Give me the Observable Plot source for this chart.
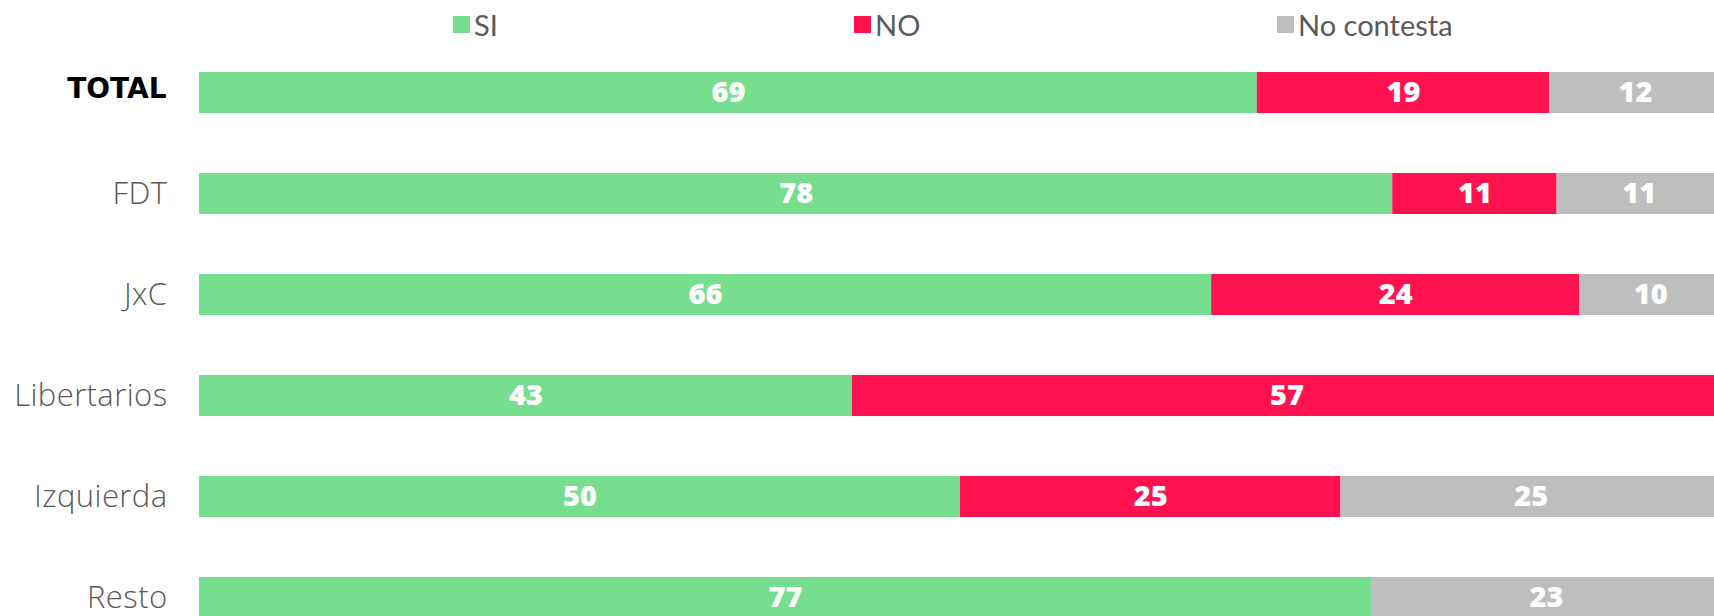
<!DOCTYPE html>
<html>
<head>
<meta charset="utf-8">
<script src="https://cdn.jsdelivr.net/npm/d3@7"></script>
<script src="https://cdn.jsdelivr.net/npm/@observablehq/plot@0.6"></script>
<style>
  html, body { margin: 0; padding: 0; background: #fff; overflow: hidden; }
  #legend { position: relative; height: 50px; width: 1714px; font-family: Lato, "Open Sans", sans-serif; font-size: 29px; color: #5a5a5a; }
  #legend .item { position: absolute; top: 6px; display: flex; align-items: center; height: 36px; }
  #legend .sw { width: 17px; height: 17px; margin-right: 4px; }
  #chart svg { display: block; }
  #chart .ylab text { letter-spacing: 0.4px; }
</style>
</head>
<body>
<div id="legend"></div>
<div id="chart"></div>
<script>
// Categories (rows, top to bottom)
const groups = ["TOTAL", "FDT", "JxC", "Libertarios", "Izquierda", "Resto"];
// Series
const series = ["SI", "NO", "No contesta"];
const seriesColors = ["#78de8f", "#ff124f", "#bebebe"];
// Bar lengths (percent)
const valuesSI = [69.5, 78.4, 66.5, 42.9, 50, 77];
const valuesNO = [19.2, 10.8, 24.2, 57.1, 25, 0];
const valuesNC = [11.3, 10.8, 9.3, 0, 25, 23];
// Printed labels
const labelsSI = ["69", "78", "66", "43", "50", "77"];
const labelsNO = ["19", "11", "24", "57", "25", ""];
const labelsNC = ["12", "11", "10", "", "25", "23"];

const seriesValues = [valuesSI, valuesNO, valuesNC];
const seriesLabels = [labelsSI, labelsNO, labelsNC];
const data = [];
series.forEach((s, si) => {
  groups.forEach((g, gi) => {
    data.push({group: g, series: s, value: seriesValues[si][gi], label: seriesLabels[si][gi]});
  });
});

// Legend
const legendLeft = [453, 854, 1277];
const legend = document.getElementById("legend");
series.forEach((s, i) => {
  const item = document.createElement("div");
  item.className = "item";
  item.style.left = legendLeft[i] + "px";
  const sw = document.createElement("div");
  sw.className = "sw";
  sw.style.background = seriesColors[i];
  const t = document.createElement("span");
  t.textContent = s;
  item.appendChild(sw);
  item.appendChild(t);
  legend.appendChild(item);
});

const chart = Plot.plot({
  width: 1714,
  height: 568,
  marginTop: 22,
  marginBottom: 0,
  marginLeft: 199,
  marginRight: 0,
  style: {fontFamily: "'Open Sans', Lato, sans-serif", background: "#fff", overflow: "hidden"},
  x: {domain: [0, 100], range: [199, 1721], axis: null},
  y: {domain: groups, paddingInner: 0.598, paddingOuter: 0, align: 0, label: null},
  color: {domain: series, range: seriesColors},
  marks: [
    Plot.barX(data, Plot.stackX({x: "value", y: "group", fill: "series", z: "series", order: series})),
    Plot.text(data, Plot.stackX({
      x: "value", y: "group", z: "series", text: "label", order: series,
      filter: d => d.value > 0,
      fill: "white", fontSize: 29, fontWeight: 800, fontFamily: "'Open Sans', sans-serif"
    })),
    Plot.axisY(groups.slice(1), {tickSize: 0, tickPadding: 32, fontSize: 31, fontWeight: 300, color: "#5a5a5a", fontFamily: "'Open Sans', sans-serif", className: "ylab", label: null}),
    Plot.axisY(["TOTAL"], {tickSize: 0, tickPadding: 33, dy: -4, fontSize: 28, fontWeight: 700, color: "#000", fontFamily: "'DejaVu Sans', sans-serif", label: null})
  ]
});
document.getElementById("chart").appendChild(chart);
</script>
</body>
</html>
